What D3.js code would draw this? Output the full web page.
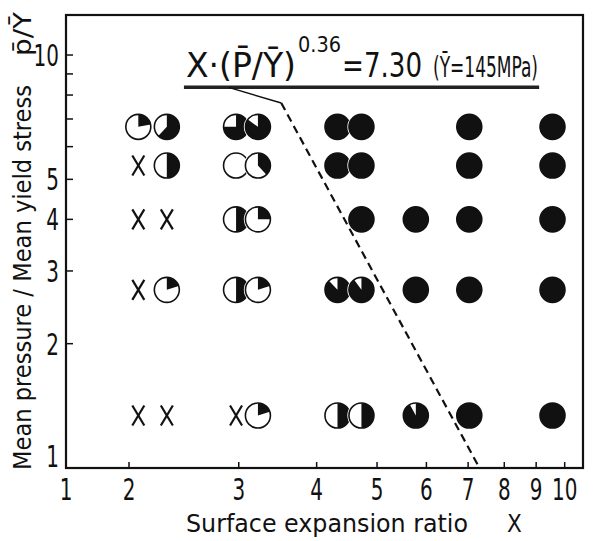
<!DOCTYPE html>
<html>
<head>
<meta charset="utf-8">
<script src="https://cdn.jsdelivr.net/npm/d3@7"></script>
<style>
  body { margin: 0; background: #fff; }
  text { font-family: "DejaVu Sans Condensed", "DejaVu Sans", sans-serif; fill: #111; }
</style>
</head>
<body>
<svg id="chart" width="593" height="541"></svg>
<script>
// surface expansion ratio X of each specimen
var expansion = [
    2.07, 2.3, 2.97, 3.22, 4.32, 4.72, 7.03, 9.56,
    2.07, 2.3, 2.97, 3.22, 4.32, 4.72, 7.03, 9.56,
    2.07, 2.3, 2.97, 3.22, 4.72, 5.77, 7.03, 9.56,
    2.07, 2.3, 2.97, 3.22, 4.32, 4.72, 5.77, 7.03, 9.56,
    2.07, 2.3, 2.97, 3.22, 4.32, 4.72, 5.77, 7.03, 9.56
];
// mean pressure / mean yield stress
var pressure = [
    6.7, 6.7, 6.7, 6.7, 6.7, 6.7, 6.7, 6.7,
    5.4, 5.4, 5.4, 5.4, 5.4, 5.4, 5.4, 5.4,
    4.0, 4.0, 4.0, 4.0, 4.0, 4.0, 4.0, 4.0,
    2.7, 2.7, 2.7, 2.7, 2.7, 2.7, 2.7, 2.7, 2.7,
    1.34, 1.34, 1.34, 1.34, 1.34, 1.34, 1.34, 1.34, 1.34
];
// bonded fraction (black part of circle), null = X (no bonding)
var bonded = [
    0.22, 0.62, 0.75, 0.85, 1, 1, 1, 1,
    null, 0.5, 0, 0.38, 1, 1, 1, 1,
    null, null, 0.5, 0.25, 1, 1, 1, 1,
    null, 0.2, 0.5, 0.2, 0.88, 0.9, 1, 1, 1,
    null, null, null, 0.2, 0.5, 0.5, 0.92, 1, 1
];

var xTicks = [2, 3, 4, 5, 6, 7, 8, 9, 10];
var xTickLabels = ["1", "2", "3", "4", "5", "6", "7", "8", "9", "10"];
var yTicks = [2, 3, 4, 5, 6, 7, 8, 9, 10];
var yTickLabels = ["1", "2", "3", "4", "5", "10"];

// boundary line  X·(P/Y)^0.36 = 7.30
var boundaryX = [3.51, 7.30];
var boundaryP = [7.65, 1];
var leaderX = [2.89, 3.51];
var leaderP = [8.35, 7.65];
var underlineX = [2.45, 9.1];
var underlineP = 8.35;


var svg = d3.select("#chart");

// x axis is compressed between 1 and 2
var x = d3.scaleLog().domain([1, 2, 10.7]).range([66, 129, 583]);
var y = d3.scaleLog().domain([1, 12.5]).range([468, 15]);

var narrow = 0.74;   // the lettering in the figure is tall and narrow

var plot = svg.append("g");

// frame
plot.append("rect")
    .attr("x", x(1))
    .attr("y", y(12.5))
    .attr("width", x(10.7) - x(1))
    .attr("height", y(1) - y(12.5))
    .attr("fill", "none")
    .attr("stroke", "#111")
    .attr("stroke-width", 2.2);

// inward ticks
plot.selectAll("line.xtick")
    .data(xTicks)
    .enter()
    .append("line")
    .attr("class", "xtick")
    .attr("x1", function(d) { return x(d); })
    .attr("x2", function(d) { return x(d); })
    .attr("y1", y(1))
    .attr("y2", y(1) - 6)
    .attr("stroke", "#111")
    .attr("stroke-width", 1.5);

plot.selectAll("line.ytick")
    .data(yTicks)
    .enter()
    .append("line")
    .attr("class", "ytick")
    .attr("x1", x(1))
    .attr("x2", x(1) + 7)
    .attr("y1", function(d) { return y(d); })
    .attr("y2", function(d) { return y(d); })
    .attr("stroke", "#111")
    .attr("stroke-width", 1.5);

// tick labels
svg.selectAll("text.xlab")
    .data(xTickLabels)
    .enter()
    .append("text")
    .attr("class", "xlab")
    .attr("transform", function(d) {
        return "translate(" + x(+d) + ",500) scale(" + narrow + ",1)";
    })
    .attr("text-anchor", "middle")
    .attr("font-size", 30)
    .text(function(d) { return d; });

svg.selectAll("text.ylab")
    .data(yTickLabels)
    .enter()
    .append("text")
    .attr("class", "ylab")
    .attr("transform", function(d) {
        var ty = +d == 1 ? y(1) - 1 : y(+d) + 11;
        return "translate(59," + ty + ") scale(" + narrow + ",1)";
    })
    .attr("text-anchor", "end")
    .attr("font-size", 30)
    .text(function(d) { return d; });

// axis titles
svg.append("text")
    .attr("x", 186)
    .attr("y", 532)
    .attr("font-size", 24)
    .attr("textLength", 282)
    .attr("lengthAdjust", "spacingAndGlyphs")
    .text("Surface expansion ratio");

svg.append("text")
    .attr("x", 507)
    .attr("y", 532)
    .attr("font-size", 24)
    .text("X");

svg.append("text")
    .attr("transform", "translate(31,470) rotate(-90)")
    .attr("font-size", 24)
    .attr("textLength", 385)
    .attr("lengthAdjust", "spacingAndGlyphs")
    .text("Mean pressure / Mean yield stress");

svg.append("text")
    .attr("transform", "translate(31,56) rotate(-90)")
    .attr("font-size", 24)
    .attr("textLength", 44)
    .attr("lengthAdjust", "spacingAndGlyphs")
    .text("p\u0304/\u0232");

// formula annotation
var note = svg.append("g");
note.append("text").attr("x", 186).attr("y", 77).attr("font-size", 34)
    .attr("textLength", 110).attr("lengthAdjust", "spacingAndGlyphs")
    .text("X\u00b7(P\u0304/\u0232)");
note.append("text").attr("x", 298).attr("y", 52).attr("font-size", 22)
    .attr("textLength", 43).attr("lengthAdjust", "spacingAndGlyphs")
    .text("0.36");
note.append("text").attr("x", 342).attr("y", 77).attr("font-size", 34)
    .attr("textLength", 80).attr("lengthAdjust", "spacingAndGlyphs")
    .text("=7.30");
note.append("text").attr("x", 433).attr("y", 77).attr("font-size", 29)
    .attr("textLength", 105).attr("lengthAdjust", "spacingAndGlyphs")
    .text("(\u0232=145MPa)");

plot.append("line")
    .attr("x1", x(underlineX[0]))
    .attr("x2", x(underlineX[1]))
    .attr("y1", y(underlineP))
    .attr("y2", y(underlineP))
    .attr("stroke", "#222")
    .attr("stroke-width", 3.5);

var line = d3.line()
    .x(function(d) { return x(d[0]); })
    .y(function(d) { return y(d[1]); });

plot.append("path")
    .attr("d", line(d3.zip(leaderX, leaderP)))
    .attr("fill", "none")
    .attr("stroke", "#111")
    .attr("stroke-width", 1.5);

plot.append("path")
    .attr("d", line(d3.zip(boundaryX, boundaryP)))
    .attr("fill", "none")
    .attr("stroke", "#111")
    .attr("stroke-width", 2.2)
    .attr("stroke-dasharray", "8,5");

// specimens
var points = d3.range(expansion.length).map(function(i) {
    return { x: expansion[i], p: pressure[i], f: bonded[i] };
});

var r = 12.5;
var arc = d3.arc().innerRadius(0).outerRadius(r).startAngle(0);

var marks = plot.selectAll("g.mark")
    .data(points)
    .enter()
    .append("g")
    .attr("class", "mark")
    .attr("transform", function(d) {
        return "translate(" + x(d.x) + "," + y(d.p) + ")";
    });

var crosses = marks.filter(function(d) { return d.f === null; });
crosses.append("line")
    .attr("x1", -6).attr("y1", -10).attr("x2", 6).attr("y2", 10)
    .attr("stroke", "#111").attr("stroke-width", 2.2);
crosses.append("line")
    .attr("x1", 6).attr("y1", -10).attr("x2", -6).attr("y2", 10)
    .attr("stroke", "#111").attr("stroke-width", 2.2);

var circles = marks.filter(function(d) { return d.f !== null; });
circles.append("circle")
    .attr("r", r + 1.6)
    .attr("fill", "#fff");
circles.append("circle")
    .attr("r", r)
    .attr("fill", "#fff")
    .attr("stroke", "#111")
    .attr("stroke-width", 1.6);
circles.append("path")
    .attr("d", function(d) {
        return d.f > 0 ? arc({ endAngle: 2 * Math.PI * d.f }) : null;
    })
    .attr("fill", "#111");
</script>
</body>
</html>
